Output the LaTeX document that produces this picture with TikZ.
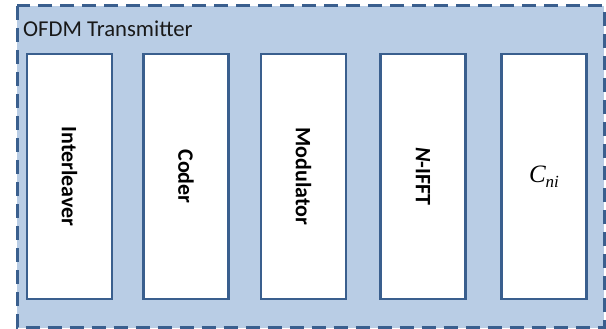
\documentclass[tikz,border=0pt]{standalone}
\usepackage{fontspec}
\setmainfont{Carlito}
\newfontfamily\serifmath{Liberation Serif}
\definecolor{panelfill}{HTML}{B9CDE5}
\definecolor{edgeblue}{HTML}{3A5F8E}
\begin{document}
\begin{tikzpicture}[x=1pt,y=-1pt,
  panel/.style={draw=edgeblue,fill=panelfill,line width=3pt,dash pattern=on 14pt off 8pt},
  blockbox/.style={draw=edgeblue,fill=white,line width=2.3pt,minimum width=85pt,minimum height=245pt,inner sep=0pt},
  blocklabel/.style={rotate=-90,font=\fontsize{22}{24}\selectfont\bfseries,text=black},
  titlelabel/.style={font=\fontsize{22.7}{24}\selectfont,text=black!90,anchor=base west,inner sep=0pt}]
\useasboundingbox (0,0) rectangle (606,329);
\fill[white] (0,0) rectangle (606,329);
\draw[panel] (17,6) rectangle (604,327.5);
\node[titlelabel] (title) at (23,37) {OFDM Transmitter};
\node[blockbox] (b1) at (69.5,176.5) {};
\node[blockbox] (b2) at (186,176.5) {};
\node[blockbox] (b3) at (303.5,176.5) {};
\node[blockbox] (b4) at (423,176.5) {};
\node[blockbox] (b5) at (544,176.5) {};
\node[blocklabel] (l1) at (b1.center) {Interleaver};
\node[blocklabel] (l2) at (b2.center) {Coder};
\node[blocklabel] (l3) at (b3.center) {Modulator};
\node[blocklabel] (l4) at (b4.center) {\textit{N}-IFFT};
\node[font=\serifmath\itshape\fontsize{25}{26}\selectfont,text=black] (l5) at (b5.center) {C\raisebox{-5pt}{\fontsize{17}{18}\selectfont ni}};
\end{tikzpicture}
\end{document}
